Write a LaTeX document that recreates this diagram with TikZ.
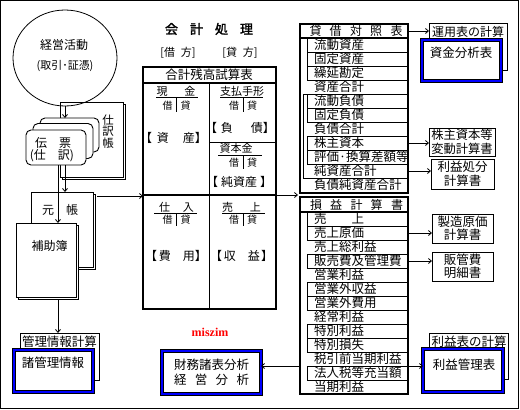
\documentclass[tikz,border=0pt]{standalone}
\usepackage{fontspec}
\setmainfont{Noto Sans CJK JP}
\newfontfamily\jpbold{Noto Sans CJK JP}[FakeBold=2]
\newfontfamily\latinserif{Liberation Serif}
\usetikzlibrary{shapes.geometric,arrows.meta,calc}
\newcommand{\fz}[1]{\fontsize{#1}{#1}\selectfont}
\newcommand{\fzz}[2]{\fontsize{#1}{#2}\selectfont}
\definecolor{bl}{RGB}{0,0,255}
\definecolor{rd}{RGB}{255,0,0}
\begin{document}
\begin{tikzpicture}[x=1pt,y=-1pt,
  every node/.style={inner sep=0pt, outer sep=0pt},
  box/.style={draw, fill=white, line width=0.9pt, anchor=north west},
  bbox/.style={draw=black, double=bl, double distance=2pt, line width=0.6pt, fill=white, anchor=north west},
  frm/.style={draw, line width=2.5pt, anchor=north west},
  ln/.style={line width=0.9pt},
  arr/.style={line width=0.8pt, -{Straight Barb[length=3pt,width=5pt]}},
  f13/.style={font=\fz{13}},
  f125/.style={font=\fz{12.5}},
  f12/.style={font=\fz{12}},
  f11/.style={font=\fz{11}},
  f10/.style={font=\fz{10}},
  row/.style={anchor=west, font=\fz{12.5}},
  card/.style={draw, fill=white, line width=0.9pt, rounded corners=5pt, anchor=north west},
]
\fill[white] (0,0) rectangle (520,410);
\useasboundingbox (0,0) rectangle (520,410);
\draw[line width=1pt] (0.5,0.5) rectangle (518.5,408.5);
\coordinate (x58) at (58,0);
\coordinate (x65) at (65,0);

% ---------------- left column ----------------
\draw[ln, fill=white] (62,104) rectangle (125,179);
\node[box, minimum width=63pt, minimum height=75pt] (jrn) at (60,102) {};
\node[font=\fzz{11.5}{11.5}, align=center] (jrnt) at (108,131.5) {仕\\訳\\帳};

\node[draw, ellipse, line width=0.8pt, minimum width=104pt, minimum height=96pt] (act) at (65,58) {};
\node[f12] (act1) at (64,45) {経営活動};
\node[f11] (act2) at (65,66) {(取引･証憑)};

\node[card, minimum width=59pt, minimum height=34pt] (card3) at (40,118) {};
\node[card, minimum width=60pt, minimum height=35pt] (card2) at (33,123.5) {};
\node[card, minimum width=60pt, minimum height=35pt] (card1) at (26,130) {};
\node[f12] (den1) at (53,143) {伝　票};
\node[f12] (den2) at (52,156) {(仕　訳)};

\draw[ln, fill=white] (33,194) rectangle (95,269);
\node[box, minimum width=62pt, minimum height=75pt] (ldg) at (31,192) {};
\node[f12] (ldgt) at (60,210) {元　帳};
\draw[ln, fill=white] (18,225) rectangle (78,299);
\node[box, minimum width=60pt, minimum height=74pt] (sub) at (16,223) {};
\node[f12] (subt) at (49.5,246) {補助簿};

\node[box, minimum width=79pt, minimum height=47pt] (mgc) at (20,333) {};
\node[f125] (mgct) at (59.5,342) {管理情報計算};
\node[bbox, minimum width=79pt, minimum height=42pt] (mgi) at (14,350) {};
\node[f125] (mgit) at (53,363) {諸管理情報};

% ---------------- middle ----------------
\node[font=\jpbold\fz{13}] (title) at (209,29) {\makebox[88pt][s]{会\hfill 計\hfill 処\hfill 理}};
\node[f11] (dr) at (178,53) {[借\hspace{6pt}方]};
\node[f11] (cr) at (240,53) {[貸\hspace{6pt}方]};

\node[draw, line width=2pt, anchor=north west, minimum width=133pt, minimum height=242pt] (tb) at (143,67) {};
\node[f125] (tbt) at (209,75) {合計残高試算表};
\draw[line width=1.5pt] (143,83) -- (276,83);
\draw[line width=1pt] (209,83) -- (209,309);
\draw[line width=1.5pt] (143,195) -- (276,195);
\draw[line width=1pt] (209,142) -- (276,142);

% cash
\node[f11] (cash) at (176,91) {現\hspace{17pt}金};
\draw[ln] (156,97.5) -- (198,97.5); \draw[ln] (176.5,97.5) -- (176.5,112);
\node[f10] (cash1) at (167.5,106) {借}; \node[f10] (cash2) at (185.5,106) {貸};
\node[f12] (asset) at (173.5,138) {【\hspace{5pt}資\hspace{14pt}産】};
% notes payable
\node[f11] (np) at (242,91) {支払手形};
\draw[ln] (220,97.5) -- (263,97.5); \draw[ln] (243,97.5) -- (243,112);
\node[f10] (np1) at (234,106) {借}; \node[f10] (np2) at (252,106) {貸};
\node[f12] (liab) at (240,128) {【\hspace{4pt}負\hspace{18pt}債】};
% capital
\node[f11] (cap) at (236,148.5) {資本金};
\draw[ln] (218,155) -- (262,155); \draw[ln] (243,155) -- (243,169);
\node[f10] (cap1) at (234,163) {借}; \node[f10] (cap2) at (252,163) {貸};
\node[f12] (neta) at (239,182) {【\hspace{3pt}純資産\hspace{3pt}】};
% purchases
\node[f11] (pur) at (176.5,207) {仕\hspace{13pt}入};
\draw[ln] (154,213) -- (197,213); \draw[ln] (176.5,213) -- (176.5,226);
\node[f10] (pur1) at (167.5,220) {借}; \node[f10] (pur2) at (185.5,220) {貸};
\node[f12] (exp) at (176,256) {【\hspace{2pt}費\hspace{12pt}用】};
% sales
\node[f11] (sal) at (241.5,207) {売\hspace{17pt}上};
\draw[ln] (222,213) -- (265,213); \draw[ln] (243,213) -- (243,226);
\node[f10] (sal1) at (234,220) {借}; \node[f10] (sal2) at (252,220) {貸};
\node[f12] (rev) at (241.5,256) {【\hspace{2pt}収\hspace{12pt}益\hspace{1pt}】};

\node[font=\latinserif\bfseries\fz{12}, text=rd] (sig) at (210,332) {miszim};

\node[bbox, minimum width=99pt, minimum height=43pt, font=\fzz{12.5}{15}, align=center] (zaimu) at (162,351)
  {財務諸表分析\\\makebox[75pt][s]{経\hfill 営\hfill 分\hfill 析}};

% ---------------- balance sheet ----------------
\node[f12] (bs0) at (356,31) {\makebox[93pt][s]{貸\hfill 借\hfill 対\hfill 照\hfill 表}};
\draw[line width=1.5pt] (300,38) -- (408,38);
\foreach \y in {52,66,80,108,122,136,150,164} \draw[ln] (307,\y) -- (408,\y);
\foreach \y in {94,178} \draw[ln] (303,\y) -- (408,\y);
\draw[ln] (307,38) -- (307,80);
\draw[ln] (303,94) -- (303,178);
\draw[ln] (307,94) -- (307,122);
\draw[ln] (307,136) -- (307,164);
\foreach \t [count=\i] in {流動資産,固定資産,繰延勘定,資産合計,流動負債,固定負債,負債合計,株主資本,評価·換算差額等,純資産合計,負債純資産合計}
  \node[row] (bs\i) at (314,{38+14*(\i-0.5)}) {\t};
\node[frm, minimum width=108pt, minimum height=169pt] (bs) at (300,24) {};

% ---------------- income statement ----------------
\node[f12] (pl0) at (356.5,205) {\makebox[93pt][s]{損\hfill 益\hfill 計\hfill 算\hfill 書}};
\draw[line width=1.5pt] (300,212) -- (408,212);
\foreach \y in {226,240,...,380} \draw[ln] (307,\y) -- (408,\y);
\draw[ln] (307,212) -- (307,240);
\draw[ln] (307,254) -- (307,268);
\draw[ln] (307,282) -- (307,310);
\draw[ln] (307,324) -- (307,352);
\draw[ln] (307,366) -- (307,380);
\foreach \t [count=\i] in {売　　上,売上原価,売上総利益,販売費及管理費,営業利益,営業外収益,営業外費用,経常利益,特別利益,特別損失,税引前当期利益,法人税等充当額,当期利益}
  \node[row] (pl\i) at (314,{212+14*(\i-0.5)}) {\t};
\node[frm, minimum width=108pt, minimum height=197pt] (pl) at (300,197) {};

% ---------------- right boxes ----------------
\node[box, minimum width=78pt, minimum height=47pt] (unyo) at (429,23) {};
\node[f12] (unyot) at (468,32) {運用表の計算};
\node[bbox, minimum width=79pt, minimum height=41pt] (shikin) at (422,40) {};
\node[f125] (shikint) at (461,53) {資金分析表};

\node[box, minimum width=66pt, minimum height=28pt, font=\fzz{12.3}{14}, align=center] (kabu) at (429,128) {株主資本等\\変動計算書};
\node[box, minimum width=63pt, minimum height=30pt, font=\fzz{12.5}{14}, align=center] (shobun) at (431,159) {利益処分\\計算書};
\node[box, minimum width=61pt, minimum height=29pt, font=\fzz{12.5}{13.5}, align=center] (seizo) at (432,214) {製造原価\\計算書};
\node[box, minimum width=61pt, minimum height=29pt, font=\fzz{12.5}{13.5}, align=center] (hankan) at (432,252) {販管費\\明細書};

\node[box, minimum width=79pt, minimum height=46pt] (rieki) at (429,333) {};
\node[f125] (riekit) at (469,342) {利益表の計算};
\node[bbox, minimum width=80pt, minimum height=43pt] (kanri) at (423,349) {};
\node[f125] (kanrit) at (464,365) {利益管理表};

% ---------------- connectors ----------------
\draw[arr] (act.south) -- (card3.north -| act.south);
\draw[arr] (card1.south -| x65) -- (ldg.north -| x65);
\draw[arr] (card1.south -| x58) -- (sub.north -| x58);
\coordinate (ldgout) at ($(ldg.north east)+(4,4)$);
\draw[arr] (ldgout) -- (tb.west |- ldgout);
\draw[arr, shorten <=3pt] (sub.south -| x58) -- (mgc.north -| x58);
\coordinate (gap) at (298,195);
\draw[arr] (tb.east |- gap) -- (gap);
\draw[arr] (bs.east |- bs0) -- (unyo.west |- bs0);
\draw[arr] (bs.east |- bs8) -- (kabu.west |- bs8);
\draw[arr] (bs.east |- bs10) -- (shobun.west |- bs10);
\draw[arr] (pl.east |- pl2) -- (seizo.west |- pl2);
\draw[arr] (pl.east |- pl4) -- (hankan.west |- pl4);
\coordinate (plcut) at (300,366);
\draw[arr] (pl.east |- plcut) -- (kanri.west |- plcut);
\draw[arr] (pl.west |- plcut) -- (zaimu.east |- plcut);
\end{tikzpicture}
\end{document}
